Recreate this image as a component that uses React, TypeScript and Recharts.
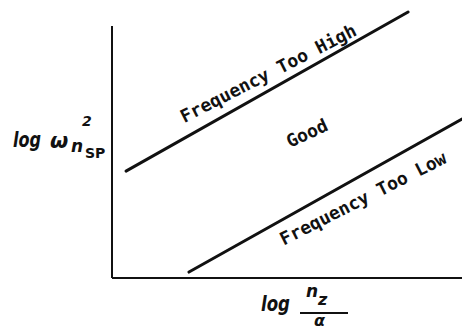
import { LineChart, Line, XAxis, YAxis, ReferenceLine, ReferenceDot } from 'recharts';

// Boundary lines of the short-period frequency band (log-log axes, arbitrary units)
const HIGH_X = [0.4, 8.46];
const HIGH_Y = [3.96, 9.85];
const LOW_X = [2.2, 10];
const LOW_Y = [0.22, 5.89];

// Region captions and where they sit in data units
const REGION_LABELS = ['Frequency Too High', 'Good', 'Frequency Too Low'];
const REGION_X = [4.46, 5.57, 7.17];
const REGION_Y = [7.59, 5.37, 2.96];

// Vertical axis stops short of the top of the plot
const Y_AXIS_TOP = 9.33;

const INK = '#111';
const REGION_TILT = [-27, -25, -27];
const HAND = '"DejaVu Sans", sans-serif';
const MONO = '"DejaVu Sans Mono", monospace';

const highData = HIGH_X.map((x, i) => ({ x, y: HIGH_Y[i] }));
const lowData = LOW_X.map((x, i) => ({ x, y: LOW_Y[i] }));

const renderRegion = (i: number) => (props: any) => {
  const vb = props.viewBox || {};
  const cx = vb.x + (vb.width || 0) / 2;
  const cy = vb.y + (vb.height || 0) / 2;
  return (
    <text
      x={cx}
      y={cy}
      transform={`rotate(${REGION_TILT[i]}, ${cx}, ${cy})`}
      textAnchor="middle"
      dominantBaseline="central"
      fontFamily={MONO}
      fontSize={18}
      fontWeight="bold"
      fill={INK}
    >
      {REGION_LABELS[i]}
    </text>
  );
};

// log ω²n_SP
const YTitle = () => (
  <g fill={INK} fontFamily={HAND} fontStyle="italic" fontWeight="bold">
    <text x={13} y={147} fontSize={22} textLength={28} lengthAdjust="spacingAndGlyphs">log</text>
    <text x={50} y={148} fontSize={21}>ω</text>
    <text x={71} y={152} fontSize={17}>n</text>
    <text x={82} y={126} fontSize={14}>2</text>
    <text x={85} y={158} fontSize={14} fontStyle="normal">SP</text>
  </g>
);

// log n_z / α
const XTitle = () => (
  <g fill={INK} fontFamily={HAND} fontStyle="italic" fontWeight="bold">
    <text x={261} y={311} fontSize={22} textLength={29} lengthAdjust="spacingAndGlyphs">log</text>
    <text x={306} y={297} fontSize={17}>n</text>
    <text x={318} y={305} fontSize={16}>z</text>
    <line x1={300} y1={313} x2={348} y2={313} stroke={INK} strokeWidth={2} />
    <text x={314} y={326} fontSize={16}>α</text>
  </g>
);

export default function App() {
  return (
    <div style={{ position: 'absolute', left: 0, top: 0, width: 462, height: 331, background: '#fff' }}>
      <LineChart width={462} height={331} margin={{ top: 8, right: 0, bottom: 52, left: 111 }}>
        <XAxis
          type="number"
          dataKey="x"
          domain={[0, 10]}
          allowDataOverflow
          height={1}
          tick={false}
          tickLine={false}
          axisLine={false}
          label={{ content: XTitle }}
        />
        <YAxis
          type="number"
          dataKey="y"
          domain={[0, 10]}
          allowDataOverflow
          width={1}
          tick={false}
          tickLine={false}
          axisLine={false}
          label={{ content: YTitle }}
        />
        <ReferenceLine
          segment={[{ x: 0, y: 0 }, { x: 10, y: 0 }]}
          stroke={INK}
          strokeWidth={2}
          ifOverflow="visible"
        />
        <ReferenceLine
          segment={[{ x: 0, y: 0 }, { x: 0, y: Y_AXIS_TOP }]}
          stroke={INK}
          strokeWidth={2}
          ifOverflow="visible"
        />
        <Line
          data={highData}
          dataKey="y"
          type="linear"
          stroke={INK}
          strokeWidth={3}
          strokeLinecap="round"
          dot={false}
          isAnimationActive={false}
        />
        <Line
          data={lowData}
          dataKey="y"
          type="linear"
          stroke={INK}
          strokeWidth={3}
          strokeLinecap="round"
          dot={false}
          isAnimationActive={false}
        />
        {REGION_LABELS.map((name, i) => (
          <ReferenceDot
            key={name}
            x={REGION_X[i]}
            y={REGION_Y[i]}
            r={1}
            fill="none"
            stroke="none"
            ifOverflow="visible"
            label={{ content: renderRegion(i) }}
          />
        ))}
      </LineChart>
    </div>
  );
}
